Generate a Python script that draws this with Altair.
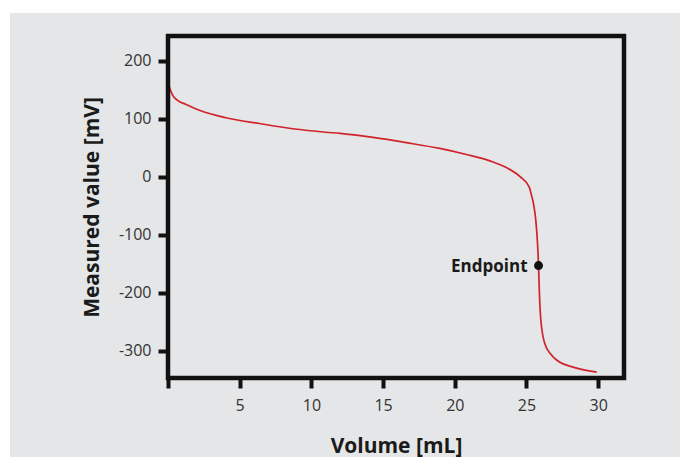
import altair as alt
import pandas as pd

# Titration curve
volume = [0.05, 0.32, 0.67, 1.26, 2.19, 4.05, 6.38, 8.7, 11.0, 12.0, 13.4, 14.3, 16.62,
          18.95, 20.81, 22.44, 23.6, 24.53, 25.2, 25.35, 25.5, 25.65, 25.77, 25.84,
          25.9, 26.0, 26.28, 26.7, 27.1, 28.5, 29.9]
potential = [158, 141, 132, 125, 115, 102, 92, 83, 77, 75, 71, 68, 59,
             49, 38.6, 27.6, 16, 1, -18, -32, -48, -75, -115, -153,
             -200, -247, -288, -306, -316, -330, -337]

endpoint_volume = [25.84]
endpoint_potential = [-153]
endpoint_label = ["Endpoint"]

x_ticks = [0, 5, 10, 15, 20, 25, 30]
y_ticks = [-300, -200, -100, 0, 100, 200]

W, H = 456, 342
FONT = "Open Sans"

curve = pd.DataFrame({"volume": volume, "potential": potential})
endpoint = pd.DataFrame({"volume": endpoint_volume, "potential": endpoint_potential,
                         "label": endpoint_label})

xscale = alt.Scale(domain=[0, 31.8], nice=False, zero=False)
yscale = alt.Scale(domain=[-347, 243], nice=False, zero=False)

xaxis = alt.Axis(values=x_ticks, labelExpr="datum.value == 0 ? '' : '' + datum.value",
                 domain=False, grid=False, tickSize=10, tickWidth=4, tickColor="#111111",
                 labelFont=FONT, labelFontSize=16, labelColor="#333333", labelPadding=9,
                 title="Volume [mL]", titleFont=FONT, titleFontSize=21, titleFontWeight="bold",
                 titleColor="#1a1a1a", titleX=W / 2, titleY=74, titleBaseline="alphabetic",
                 titleAlign="center", zindex=2)
yaxis = alt.Axis(values=y_ticks, labelExpr="'' + datum.value",
                 domain=False, grid=False, tickSize=10, tickWidth=4,
                 tickColor="#111111", labelFont=FONT, labelFontSize=16, labelColor="#333333",
                 labelPadding=7,
                 title="Measured value [mV]", titleFont=FONT, titleFontSize=21,
                 titleFontWeight="bold", titleColor="#1a1a1a", titleX=-70, titleY=H / 2,
                 titleAngle=270, titleBaseline="alphabetic", titleAlign="center", zindex=2)

bg = alt.Chart(alt.Data(values=[{}])).mark_rect(color="#e5e6e7").encode(
    x=alt.value(-158), x2=alt.value(512), y=alt.value(-23), y2=alt.value(421))

line = alt.Chart(curve).mark_line(color="#d0232b", strokeWidth=1.7,
                                  interpolate="monotone").encode(
    x=alt.X("volume:Q", scale=xscale, axis=xaxis),
    y=alt.Y("potential:Q", scale=yscale, axis=yaxis))

frame = alt.Chart(alt.Data(values=[{}])).mark_rect(
    fill=None, fillOpacity=0, stroke="#111111", strokeWidth=4.5).encode(
    x=alt.value(0), x2=alt.value(W), y=alt.value(0), y2=alt.value(H))

dot = alt.Chart(endpoint).mark_point(filled=True, color="#111111", size=80, opacity=1).encode(
    x=alt.X("volume:Q", scale=xscale), y=alt.Y("potential:Q", scale=yscale))

label = alt.Chart(endpoint).mark_text(align="right", baseline="middle", dx=-11, dy=1,
                                      font=FONT, fontSize=17, fontWeight="bold",
                                      color="#1a1a1a").encode(
    x=alt.X("volume:Q", scale=xscale), y=alt.Y("potential:Q", scale=yscale),
    text="label:N")

chart = alt.layer(bg, line, frame, dot, label).properties(
    width=W, height=H,
    autosize=alt.AutoSizeParams(type="none"),
    padding={"left": 168, "top": 36, "right": 56, "bottom": 79},
    background="#ffffff",
).configure_view(stroke=None)

chart.save("out.html", embed_options={"renderer": "svg", "actions": False})
